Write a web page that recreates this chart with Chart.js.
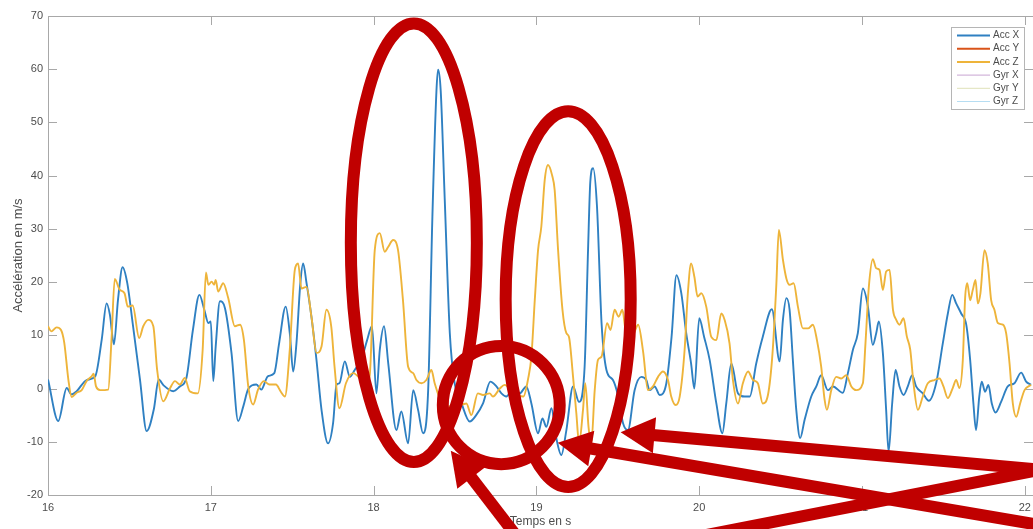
<!DOCTYPE html>
<html>
<head>
<meta charset="utf-8">
<script src="https://cdn.jsdelivr.net/npm/chart.js@4.4.1/dist/chart.umd.min.js"></script>
<style>
  html, body { margin: 0; padding: 0; background: #fff; overflow: hidden; }
  #wrap { width: 1033px; height: 529px; }
</style>
</head>
<body>
<div id="wrap"><canvas id="myChart"></canvas></div>
<script>
// Acc X (blue) - time in s, value in m/s
const accXTime = [16.0, 16.063, 16.115, 16.145, 16.176, 16.237, 16.29, 16.33, 16.36, 16.38, 16.405, 16.43, 16.458, 16.487, 16.52, 16.565, 16.606, 16.65, 16.68, 16.71, 16.77, 16.81, 16.85, 16.89, 16.93, 16.96, 16.985, 17.0, 17.015, 17.03, 17.056, 17.087, 17.127, 17.168, 17.2, 17.23, 17.28, 17.31, 17.35, 17.39, 17.42, 17.46, 17.485, 17.506, 17.526, 17.55, 17.567, 17.588, 17.618, 17.649, 17.68, 17.72, 17.751, 17.772, 17.79, 17.823, 17.854, 17.884, 17.925, 17.96, 17.99, 18.017, 18.038, 18.064, 18.09, 18.14, 18.17, 18.212, 18.243, 18.273, 18.304, 18.335, 18.361, 18.386, 18.396, 18.412, 18.437, 18.468, 18.498, 18.54, 18.59, 18.63, 18.672, 18.717, 18.754, 18.785, 18.815, 18.857, 18.897, 18.938, 18.969, 19.01, 19.037, 19.061, 19.092, 19.12, 19.153, 19.184, 19.225, 19.262, 19.296, 19.317, 19.331, 19.348, 19.372, 19.4, 19.43, 19.47, 19.5, 19.532, 19.562, 19.603, 19.644, 19.675, 19.695, 19.726, 19.757, 19.798, 19.83, 19.86, 19.89, 19.92, 19.95, 19.97, 20.0, 20.03, 20.064, 20.105, 20.142, 20.166, 20.197, 20.238, 20.279, 20.31, 20.35, 20.39, 20.446, 20.494, 20.514, 20.535, 20.555, 20.575, 20.596, 20.62, 20.647, 20.688, 20.719, 20.749, 20.79, 20.821, 20.882, 20.913, 20.944, 20.974, 21.005, 21.036, 21.066, 21.087, 21.103, 21.128, 21.148, 21.163, 21.185, 21.206, 21.23, 21.255, 21.281, 21.308, 21.332, 21.373, 21.41, 21.455, 21.496, 21.527, 21.554, 21.578, 21.609, 21.64, 21.664, 21.684, 21.7, 21.72, 21.735, 21.756, 21.776, 21.797, 21.82, 21.854, 21.895, 21.936, 21.977, 22.008, 22.038];
const accXValues = [1.7, -6.1, 0.1, -1.1, -0.5, 1.6, 2.3, 9.2, 16, 13.9, 8.3, 16.7, 22.8, 19.8, 12.3, 1.7, -8, -3.9, 1.7, 0.6, -0.5, 0.4, 2, 11, 17.6, 14.8, 12.3, 12.6, 1.4, 7.9, 16.4, 15.1, 6.7, -6.1, -3.3, -0.1, 0.75, -0.2, 2.3, 2.9, 8.6, 15.4, 10.4, 3.2, 8.5, 19.8, 23.5, 19.8, 13.5, 5.4, -4, -10.3, -6.5, 0.7, 1, 5.1, 2.2, 3.5, 5.4, 9.1, 11.7, -0.9, 7.3, 11.7, 4.7, -7.8, -4.3, -10.3, -0.3, -4, -8.4, -0.3, 32.3, 56, 59.9, 56, 35.4, 10.4, 1, -2.8, -6.2, -5, -2.8, 1.3, 0.4, -0.9, -1.5, 0, -0.9, 0.4, -2.8, -8.4, -5.6, -7.2, -3.7, -9, -12.5, -7.8, 0.4, -2.5, 4.1, 26, 38.9, 41.4, 34.2, 12.3, 3.5, 1.6, -1.2, -6.5, -7.8, -0.3, 2.2, 1.6, -0.3, 0.4, -1.2, 1, 9.7, 21.3, 17.9, 10.4, 4.7, 0, 13.2, 9.7, 5.4, -2.8, -8.4, -2.8, 4.7, -0.9, -1.5, -1.5, 4.7, 9.7, 14.9, 5.1, 12.9, 17, 14.8, 5.4, -4, -9.3, -5.9, -1.5, 0.4, 2.5, -0.3, 0.4, -0.8, 2.9, 7.3, 10.4, 18.8, 15.4, 8.2, 10.4, 12.6, 6.6, -4, -11.9, -2.8, 3.5, 0.4, -1.2, 0.4, 2.5, 0.4, -0.9, -2.3, 1, 8.5, 14.1, 17.6, 16, 14.1, 12, 5.4, -2.8, -7.8, -1.5, 1.3, -0.6, 0.7, -2.8, -4.5, -2.5, 0.4, 1, 3, 1.3, 0.7];

// Acc Z (orange)
const accZTime = [16.0, 16.02, 16.053, 16.08, 16.1, 16.125, 16.145, 16.176, 16.207, 16.237, 16.268, 16.28, 16.295, 16.32, 16.37, 16.39, 16.41, 16.44, 16.47, 16.49, 16.52, 16.56, 16.585, 16.616, 16.647, 16.67, 16.708, 16.75, 16.78, 16.81, 16.84, 16.87, 16.92, 16.95, 16.97, 16.985, 17.005, 17.02, 17.03, 17.045, 17.076, 17.107, 17.148, 17.18, 17.203, 17.23, 17.26, 17.29, 17.326, 17.36, 17.4, 17.43, 17.455, 17.485, 17.516, 17.536, 17.557, 17.588, 17.618, 17.65, 17.68, 17.71, 17.74, 17.76, 17.79, 17.83, 17.874, 17.915, 17.946, 17.976, 18.007, 18.038, 18.068, 18.089, 18.12, 18.15, 18.18, 18.212, 18.243, 18.263, 18.294, 18.324, 18.355, 18.375, 18.447, 18.488, 18.54, 18.57, 18.6, 18.64, 18.672, 18.713, 18.733, 18.775, 18.805, 18.857, 18.92, 18.95, 18.969, 18.99, 19.01, 19.03, 19.051, 19.071, 19.096, 19.112, 19.133, 19.16, 19.184, 19.2, 19.225, 19.245, 19.262, 19.286, 19.3, 19.32, 19.337, 19.358, 19.378, 19.4, 19.434, 19.455, 19.48, 19.505, 19.528, 19.548, 19.59, 19.625, 19.655, 19.685, 19.716, 19.747, 19.777, 19.808, 19.828, 19.855, 19.88, 19.91, 19.93, 19.95, 19.97, 19.99, 20.013, 20.043, 20.074, 20.105, 20.135, 20.156, 20.186, 20.207, 20.238, 20.268, 20.3, 20.33, 20.36, 20.39, 20.422, 20.45, 20.473, 20.489, 20.514, 20.535, 20.555, 20.58, 20.606, 20.637, 20.668, 20.698, 20.723, 20.749, 20.77, 20.784, 20.811, 20.841, 20.872, 20.903, 20.934, 20.964, 21.005, 21.021, 21.042, 21.066, 21.087, 21.107, 21.128, 21.148, 21.169, 21.19, 21.21, 21.23, 21.255, 21.275, 21.296, 21.316, 21.343, 21.373, 21.404, 21.445, 21.476, 21.5, 21.527, 21.557, 21.578, 21.598, 21.619, 21.633, 21.646, 21.664, 21.68, 21.697, 21.711, 21.727, 21.752, 21.772, 21.793, 21.813, 21.834, 21.865, 21.885, 21.906, 21.926, 21.947, 21.971, 21.998, 22.038];
const accZValues = [11.7, 10.75, 11.5, 11, 8.6, 1.7, -1.6, -0.8, -0.3, 1.4, 2.3, 2.8, 0.4, -0.3, -0.2, 9.2, 20.6, 18.6, 17.9, 15.4, 15.6, 9.5, 11.7, 12.9, 11.7, 3.6, -2.4, 0.1, 1.4, 0.75, 2, -0.5, -0.9, 7.3, 21.8, 19.5, 20.1, 19.5, 20.4, 18.25, 19.8, 17, 11.7, 12, 9.2, 0.4, -3, -0.2, 1.4, 0.75, 0.75, -0.6, -1.5, 7.3, 22.3, 23.5, 18.8, 19.1, 13.5, 6.7, 7.9, 14.8, 11.6, 4.1, -3.7, 1, 2.9, 1.9, 0.4, 2.5, 26, 29.2, 25.7, 26.6, 27.9, 26, 16.7, 4.1, 2.9, 1.6, 1, 1.6, 3.5, 1, -4, -2.8, -3, -2.8, -5, -0.9, -1.2, -0.9, -1.5, 0, 0.7, -0.9, -1.5, 2, 6, 16.7, 26, 30.4, 39.2, 42, 40.1, 37.3, 26, 14.8, 10.4, 9.7, 2.2, -4.6, -10.3, -4, 1, -7.2, -10.3, -0.3, 5.4, 6, 12.3, 11, 14.8, 13.5, 14.8, 11, 10, 12, 7, -0.3, 0.4, 2.2, 3.2, 1.6, -1.5, -3.1, -1.5, 7.2, 17.9, 23.5, 21, 17.3, 17.9, 15.4, 9.7, 9.1, 14.1, 12.9, 8.5, 1.6, -2.8, 1, 3.2, 1.6, 1, -2.8, -1.2, 6.6, 19.2, 29.8, 24.2, 20.7, 19.5, 19.8, 15.4, 11.3, 11.3, 12, 9.1, 4.1, -2.1, -4, -0.3, 2.2, 1.9, 2.5, 0.4, -0.3, 1, 8.5, 19.2, 24.3, 22.6, 22.3, 18.5, 22, 22.3, 14.8, 12.9, 12, 13.2, 9.8, 7.3, 1, -4, -1.5, 1, 1.6, 1.9, 0.4, -1.8, 0.1, 1.6, 0.1, 5.4, 17, 19.8, 16.6, 18.5, 20.4, 16, 17.9, 26, 23.5, 16.6, 14.8, 12.3, 12, 10.4, 4.7, -2.8, -5.3, -2.8, -0.3, 0.7];

const seriesLabels = ['Acc X', 'Acc Y', 'Acc Z', 'Gyr X', 'Gyr Y', 'Gyr Z'];
const seriesColors = ['#2f80c2', '#d95319', '#eeb43a', '#c8a4d2', '#dfe2b8', '#b6ddf2'];

const xTickValues = [16, 17, 18, 19, 20, 21, 22];
const yTickValues = [-20, -10, 0, 10, 20, 30, 40, 50, 60, 70];

// red marks drawn over the figure, in data units (s, m/s)
const redEllipses = [
    { t: 18.247, v: 27.4, rt: 0.387, rv: 41.2 },
    { t: 19.195, v: 16.8, rt: 0.384, rv: 35.3 },
    { t: 18.784, v: -3.1, rt: 0.359, rv: 11.1 }
];
const redArrows = [
    { tipT: 18.474, tipV: -11.7, tailT: 18.897, tailV: -28.5, head: true },
    { tipT: 19.517, tipV: -8.2, tailT: 22.12, tailV: -15.3, head: true },
    { tipT: 19.131, tipV: -10.2, tailT: 22.12, tailV: -25.8, head: true },
    { tipT: 19.88, tipV: -28.5, tailT: 22.12, tailV: -15.1, head: false }
];

const FONT = "'Liberation Sans', Arial, Helvetica, sans-serif";
const AXIS_GREY = '#a8a8a8';
const TEXT_GREY = '#4d4d4d';

function toPoints(times, values) {
    return times.map((t, i) => ({ x: t, y: values[i] }));
}

// MATLAB style box with inward ticks
const axisBox = {
    id: 'axisBox',
    beforeDatasetsDraw(chart) {
        const { ctx, chartArea: a, scales: { x, y } } = chart;
        ctx.save();
        ctx.strokeStyle = AXIS_GREY;
        ctx.lineWidth = 1;
        ctx.beginPath();
        ctx.rect(a.left + 0.5, a.top + 0.5, a.right - a.left, a.bottom - a.top);
        const tl = 9;
        yTickValues.forEach(v => {
            const py = Math.round(y.getPixelForValue(v)) + 0.5;
            ctx.moveTo(a.left, py); ctx.lineTo(a.left + tl, py);
            ctx.moveTo(a.right, py); ctx.lineTo(a.right - tl, py);
        });
        xTickValues.forEach(t => {
            const px = Math.round(x.getPixelForValue(t)) + 0.5;
            ctx.moveTo(px, a.bottom); ctx.lineTo(px, a.bottom - tl);
            ctx.moveTo(px, a.top); ctx.lineTo(px, a.top + tl);
        });
        ctx.stroke();
        ctx.restore();
    }
};

// legend box in the top right corner
const boxLegend = {
    id: 'boxLegend',
    afterDatasetsDraw(chart) {
        const { ctx, chartArea: a } = chart;
        const left = a.right - 82, top = a.top + 11, w = 73, h = 82;
        ctx.save();
        ctx.fillStyle = '#fff';
        ctx.fillRect(left, top, w, h);
        ctx.strokeStyle = '#b5b5b5';
        ctx.lineWidth = 1;
        ctx.strokeRect(left + 0.5, top + 0.5, w, h);
        ctx.font = '10px ' + FONT;
        ctx.textBaseline = 'middle';
        ctx.textAlign = 'left';
        chart.data.datasets.forEach((ds, i) => {
            const cy = top + 8.5 + i * 13.2;
            ctx.strokeStyle = ds.borderColor;
            ctx.lineWidth = i < 3 ? 2 : 1;
            ctx.beginPath();
            ctx.moveTo(left + 6, cy); ctx.lineTo(left + 39, cy);
            ctx.stroke();
            ctx.fillStyle = TEXT_GREY;
            ctx.fillText(ds.label, left + 42, cy);
        });
        ctx.restore();
    }
};

// red ellipses and arrows
const redMarks = {
    id: 'redMarks',
    afterDraw(chart) {
        const { ctx, scales: { x, y } } = chart;
        ctx.save();
        ctx.strokeStyle = '#c00000';
        ctx.fillStyle = '#c00000';
        ctx.lineWidth = 12;
        redEllipses.forEach(e => {
            const cx = x.getPixelForValue(e.t), cy = y.getPixelForValue(e.v);
            const rx = Math.abs(x.getPixelForValue(e.t + e.rt) - cx);
            const ry = Math.abs(y.getPixelForValue(e.v + e.rv) - cy);
            ctx.beginPath();
            ctx.ellipse(cx, cy, rx, ry, 0, 0, Math.PI * 2);
            ctx.stroke();
        });
        redArrows.forEach(ar => {
            const tx = x.getPixelForValue(ar.tipT), ty = y.getPixelForValue(ar.tipV);
            const ex = x.getPixelForValue(ar.tailT), ey = y.getPixelForValue(ar.tailV);
            const len = Math.hypot(ex - tx, ey - ty);
            const ux = (ex - tx) / len, uy = (ey - ty) / len;
            const headLen = ar.head ? 34 : 0, headW = 18;
            ctx.lineCap = 'butt';
            ctx.lineWidth = 12;
            ctx.beginPath();
            ctx.moveTo(tx + ux * (headLen - 2), ty + uy * (headLen - 2));
            ctx.lineTo(ex, ey);
            ctx.stroke();
            if (ar.head) {
                const bx = tx + ux * headLen, by = ty + uy * headLen;
                ctx.beginPath();
                ctx.moveTo(tx, ty);
                ctx.lineTo(bx - uy * headW, by + ux * headW);
                ctx.lineTo(bx + uy * headW, by - ux * headW);
                ctx.closePath();
                ctx.fill();
            }
        });
        ctx.restore();
    }
};

const datasets = seriesLabels.map((label, i) => ({
    label: label,
    data: [],
    borderColor: seriesColors[i],
    backgroundColor: seriesColors[i],
    borderWidth: i < 3 ? 1.9 : 1,
    pointRadius: 0,
    cubicInterpolationMode: 'monotone',
    fill: false,
    order: i === 2 ? 0 : 1
}));
datasets[0].data = toPoints(accXTime, accXValues);
datasets[2].data = toPoints(accZTime, accZValues);

const ctx = document.getElementById('myChart').getContext('2d');
const myChart = new Chart(ctx, {
    type: 'line',
    data: { datasets: datasets },
    options: {
        responsive: true,
        maintainAspectRatio: false,
        animation: false,
        layout: { padding: { top: 16, right: 0, left: 0, bottom: 0 } },
        scales: {
            x: {
                type: 'linear',
                min: 16,
                max: 22.05,
                grid: { display: false, drawTicks: false },
                border: { display: false },
                afterBuildTicks: s => { s.ticks = xTickValues.map(v => ({ value: v })); },
                afterFit: s => { s.height = 34; s.paddingLeft = 0; s.paddingRight = 0; },
                ticks: {
                    autoSkip: false,
                    maxRotation: 0,
                    padding: 6,
                    color: TEXT_GREY,
                    font: { family: FONT, size: 11 }
                },
                title: {
                    display: true,
                    text: 'Temps en s',
                    color: TEXT_GREY,
                    font: { family: FONT, size: 12 },
                    padding: { top: 0, bottom: 0 }
                }
            },
            y: {
                min: -20,
                max: 70,
                grid: { display: false, drawTicks: false },
                border: { display: false },
                afterBuildTicks: s => { s.ticks = yTickValues.map(v => ({ value: v })); },
                afterFit: s => { s.width = 48; s.paddingTop = 0; s.paddingBottom = 0; },
                ticks: {
                    padding: 5,
                    color: TEXT_GREY,
                    font: { family: FONT, size: 11 }
                },
                title: {
                    display: true,
                    text: 'Accélération en m/s',
                    color: TEXT_GREY,
                    font: { family: FONT, size: 13 },
                    padding: { top: 11, bottom: 0 }
                }
            }
        },
        plugins: {
            legend: { display: false },
            tooltip: { enabled: false }
        }
    },
    plugins: [axisBox, boxLegend, redMarks]
});
</script>
</body>
</html>
